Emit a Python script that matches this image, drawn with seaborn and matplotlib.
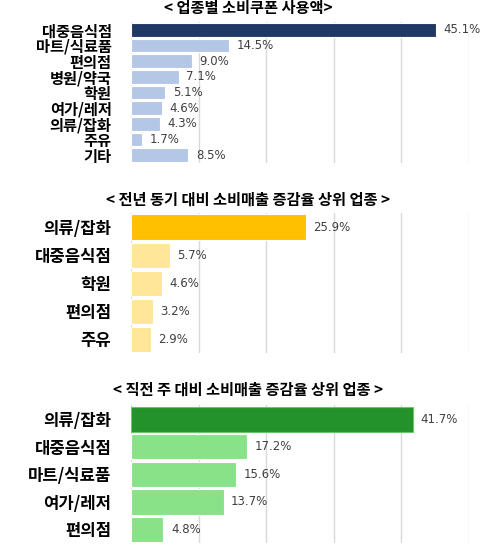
import matplotlib
matplotlib.use("Agg")
import matplotlib.pyplot as plt
import seaborn as sns
import pandas as pd

# ---- data ----
title1 = "< 업종별 소비쿠폰 사용액>"
cats1 = ["대중음식점", "마트/식료품", "편의점", "병원/약국", "학원", "여가/레저", "의류/잡화", "주유", "기타"]
vals1 = [45.1, 14.5, 9.0, 7.1, 5.1, 4.6, 4.3, 1.7, 8.5]

title2 = "< 전년 동기 대비 소비매출 증감율 상위 업종 >"
cats2 = ["의류/잡화", "대중음식점", "학원", "편의점", "주유"]
vals2 = [25.9, 5.7, 4.6, 3.2, 2.9]

title3 = "< 직전 주 대비 소비매출 증감율 상위 업종 >"
cats3 = ["의류/잡화", "대중음식점", "마트/식료품", "여가/레저", "편의점"]
vals3 = [41.7, 17.2, 15.6, 13.7, 4.8]

sns.set_theme(style="white")
plt.rcParams['font.family'] = ['Noto Sans CJK KR', 'DejaVu Sans']

fig = plt.figure(figsize=(4.8, 5.55), dpi=100)
fig.patch.set_facecolor("white")

panels = [
    (title1, cats1, vals1, "#1F3864", "#B4C7E7", [0.2729, 0.7063, 0.7042, 0.2541], 0.9856, 0.88, 11),
    (title2, cats2, vals2, "#FFC000", "#FFE699", [0.2729, 0.3631, 0.7042, 0.2531], 0.6396, 0.90, 12),
    (title3, cats3, vals3, "#23922A", "#8AE288", [0.2729, 0.0212, 0.7042, 0.2482], 0.2973, 0.92, 12),
]

for title, cats, vals, hi, lo, rect, ty, bw, fs in panels:
    ax = fig.add_axes(rect)
    df = pd.DataFrame({"cat": cats, "val": vals})
    pal = [hi] + [lo] * (len(cats) - 1)
    sns.barplot(data=df, x="val", y="cat", hue="cat", palette=pal, legend=False,
                width=bw, ax=ax, orient="h", zorder=3, saturation=1)
    for i, p in enumerate(ax.patches):
        p.set_edgecolor("#6CC56C" if (hi == "#23922A" and i == 0) else "white")
        p.set_linewidth(0.8)
    ax.set_xlim(0, 50)
    ax.set_ylim(len(cats) - 0.5, -0.5)
    ax.set_xticks([0, 10, 20, 30, 40, 50])
    ax.set_xticklabels([])
    ax.grid(axis="x", color="#D9D9D9", linewidth=1, zorder=0)
    ax.grid(axis="y", visible=False)
    for s in ax.spines.values():
        s.set_visible(False)
    ax.set_xlabel("")
    ax.set_ylabel("")
    ax.tick_params(axis="y", length=0, pad=14)
    ax.tick_params(axis="x", length=0)
    for lab in ax.get_yticklabels():
        lab.set_fontweight("bold")
        lab.set_fontsize(fs)
        lab.set_color("black")
    for i, v in enumerate(vals):
        ax.text(v + 1.1, i, f"{v:.1f}%", va="center", ha="left",
                fontsize=8.5, color="#404040", family=["DejaVu Sans"])
    fig.text(0.517, ty, title, ha="center", va="center", fontsize=11,
             fontweight="bold", color="black")

fig.savefig("out.png", dpi=100, facecolor="white")
